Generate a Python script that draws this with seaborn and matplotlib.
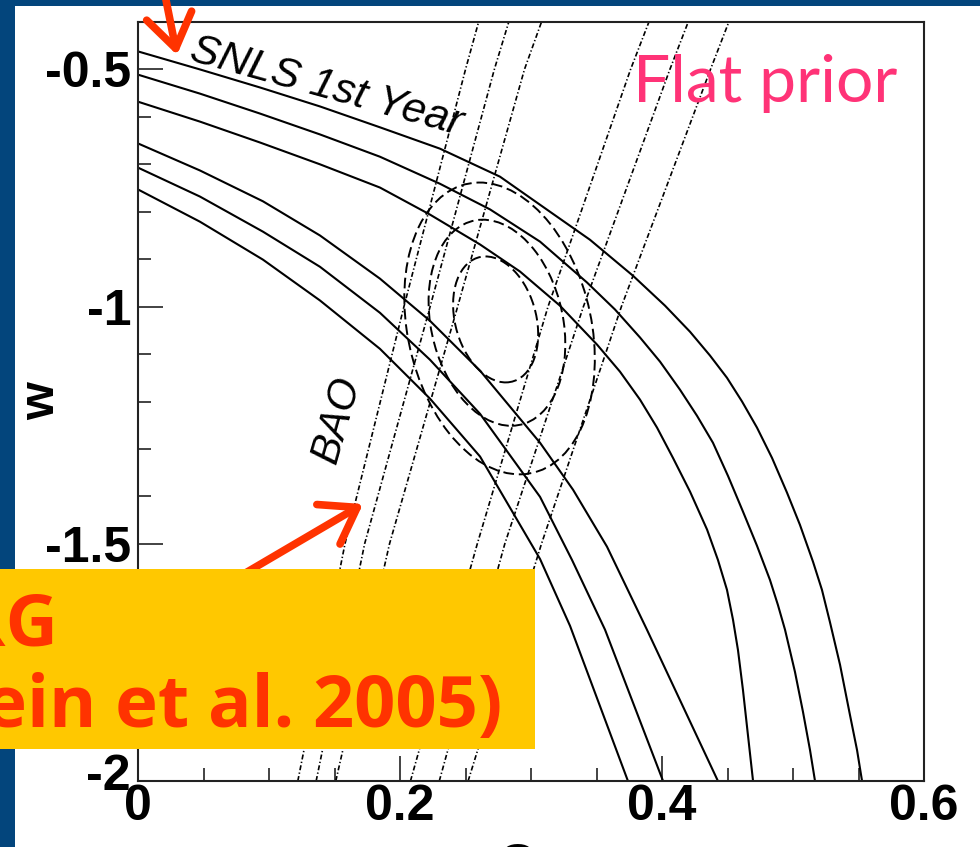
import matplotlib
matplotlib.use("Agg")
import matplotlib.pyplot as plt
from matplotlib.patches import Ellipse, Rectangle
from matplotlib.transforms import ScaledTranslation
import pandas as pd
import seaborn as sns

# ---- SNLS 1st year confidence contours in the (Omega_M, w) plane ----
# upper and lower boundaries of the 99.7 %, 95.4 % and 68.3 % regions
snls_up997_om = [0.000, 0.0473, 0.0931, 0.1389, 0.1847, 0.2305, 0.2763, 0.3145, 0.3450, 0.3779,
                 0.4023, 0.4214, 0.4366, 0.4496, 0.4611, 0.4725, 0.4840, 0.4954, 0.5053, 0.5153,
                 0.5221, 0.5282, 0.5359, 0.5435, 0.5489, 0.5527]
snls_up997_w = [-0.462, -0.500, -0.538, -0.578, -0.622, -0.667, -0.726, -0.800, -0.859, -0.935,
                -0.998, -1.053, -1.103, -1.150, -1.200, -1.255, -1.319, -1.392, -1.460, -1.538,
                -1.597, -1.665, -1.755, -1.861, -1.935, -2.000]
snls_up954_om = [0.000, 0.0473, 0.0931, 0.1389, 0.1847, 0.2305, 0.2687, 0.3069, 0.3427, 0.3641,
                 0.3832, 0.3985, 0.4137, 0.4267, 0.4389, 0.4504, 0.4618, 0.4725, 0.4824, 0.4885,
                 0.4939, 0.5015, 0.5076, 0.5130, 0.5168]
snls_up954_w = [-0.511, -0.551, -0.593, -0.637, -0.684, -0.741, -0.795, -0.863, -0.949, -1.006,
                -1.065, -1.116, -1.175, -1.230, -1.287, -1.357, -1.432, -1.504, -1.576, -1.629,
                -1.681, -1.770, -1.854, -1.935, -2.000]
snls_up683_om = [0.000, 0.0473, 0.0931, 0.1389, 0.1847, 0.2229, 0.2611, 0.2916, 0.3221, 0.3504,
                 0.3679, 0.3832, 0.3962, 0.4084, 0.4214, 0.4344, 0.4427, 0.4496, 0.4542, 0.4580,
                 0.4618, 0.4656, 0.4695]
snls_up683_w = [-0.568, -0.610, -0.654, -0.700, -0.749, -0.806, -0.869, -0.926, -0.998, -1.080,
                -1.137, -1.196, -1.255, -1.319, -1.390, -1.470, -1.534, -1.597, -1.660, -1.724,
                -1.808, -1.903, -2.000]
snls_lo683_om = [0.000, 0.0473, 0.0954, 0.1389, 0.1847, 0.2229, 0.2611, 0.3069, 0.3321, 0.3580,
                 0.3885, 0.4427]
snls_lo683_w = [-0.656, -0.713, -0.778, -0.850, -0.941, -1.030, -1.135, -1.287, -1.386, -1.506,
                -1.681, -2.000]
snls_lo954_om = [0.000, 0.0473, 0.0954, 0.1389, 0.1847, 0.2229, 0.2611, 0.3069, 0.3313, 0.3565,
                 0.4008]
snls_lo954_w = [-0.707, -0.768, -0.842, -0.916, -1.013, -1.112, -1.226, -1.401, -1.534, -1.681,
                -2.000]
snls_lo997_om = [0.000, 0.0473, 0.0954, 0.1389, 0.1847, 0.2229, 0.2611, 0.3069, 0.3298, 0.3740]
snls_lo997_w = [-0.753, -0.821, -0.901, -0.987, -1.089, -1.194, -1.316, -1.532, -1.673, -2.000]

# ---- BAO (SDSS LRG) band edges, Omega_M at fixed w ----
bao_w = [-2.0, -1.5, -1.0, -0.5, -0.4]
bao_left997_om = [0.122, 0.158, 0.203, 0.250, 0.260]
bao_left954_om = [0.136, 0.173, 0.223, 0.272, 0.283]
bao_left683_om = [0.151, 0.192, 0.244, 0.295, 0.308]
bao_right683_om = [0.208, 0.259, 0.313, 0.376, 0.390]
bao_right954_om = [0.230, 0.280, 0.340, 0.406, 0.420]
bao_right997_om = [0.252, 0.308, 0.369, 0.437, 0.451]

# ---- joint SNLS + BAO contours: centre, full width, full height, tilt ----
joint_levels = ["68.3", "95.4", "99.7"]
joint_om = [0.273, 0.274, 0.276]
joint_w = [-1.027, -1.034, -1.046]
joint_width = [0.063, 0.102, 0.142]
joint_height = [0.266, 0.435, 0.616]
joint_angle = [3.5, 3.0, 3.0]

# ---- axes ----
x_ticks = [0.0, 0.2, 0.4, 0.6]
x_tick_labels = ["0", "0.2", "0.4", "0.6"]
y_ticks = [-2.0, -1.5, -1.0, -0.5]
y_tick_labels = ["-2", "-1.5", "-1", "-0.5"]

snls = pd.concat([
    pd.DataFrame({"om": om, "w": w, "curve": name})
    for name, om, w in [("up997", snls_up997_om, snls_up997_w),
                        ("up954", snls_up954_om, snls_up954_w),
                        ("up683", snls_up683_om, snls_up683_w),
                        ("lo683", snls_lo683_om, snls_lo683_w),
                        ("lo954", snls_lo954_om, snls_lo954_w),
                        ("lo997", snls_lo997_om, snls_lo997_w)]
], ignore_index=True)

bao = pd.concat([
    pd.DataFrame({"om": om, "w": bao_w, "curve": name})
    for name, om in [("l997", bao_left997_om), ("l954", bao_left954_om),
                     ("l683", bao_left683_om), ("r683", bao_right683_om),
                     ("r954", bao_right954_om), ("r997", bao_right997_om)]
], ignore_index=True)

sns.set_theme(style="ticks")
plt.rcParams["font.family"] = ["Liberation Sans", "DejaVu Sans"]
plt.rcParams["mathtext.fontset"] = "custom"
plt.rcParams["mathtext.rm"] = "Liberation Sans:bold"
plt.rcParams["mathtext.it"] = "Liberation Sans:bold"
plt.rcParams["mathtext.bf"] = "Liberation Sans:bold"

W, H = 980, 847
slide_blue = "#03457c"
fig = plt.figure(figsize=(W / 100, H / 100), dpi=100, facecolor=slide_blue)
fig.add_artist(Rectangle((15 / W, 0), 1, (H - 6) / H, transform=fig.transFigure,
                         facecolor="white", edgecolor="none", zorder=-5))

ax = fig.add_axes([138 / W, 1 - 781 / H, (924 - 138) / W, (781 - 22) / H])
ax.set_facecolor("white")

sns.lineplot(data=snls, x="om", y="w", units="curve", estimator=None, sort=False,
             color="black", lw=1.5, ax=ax)
sns.lineplot(data=bao, x="om", y="w", units="curve", estimator=None, sort=False,
             color="black", lw=1.2, linestyle=(0, (3.0, 1.4, 0.8, 1.4)), ax=ax)

for lev, cx, cy, wd, ht, ang in zip(joint_levels, joint_om, joint_w,
                                    joint_width, joint_height, joint_angle):
    ax.add_patch(Ellipse((cx, cy), wd, ht, angle=ang, fill=False, edgecolor="black",
                         lw=1.4, linestyle=(0, (5.5, 2.5))))

ax.set_xlim(0, 0.6)
ax.set_ylim(-2, -0.4)
ax.set_xticks(x_ticks)
ax.set_xticklabels(x_tick_labels)
ax.set_yticks(y_ticks)
ax.set_yticklabels(y_tick_labels)
ax.xaxis.set_minor_locator(matplotlib.ticker.MultipleLocator(0.05))
ax.yaxis.set_minor_locator(matplotlib.ticker.MultipleLocator(0.1))
ax.tick_params(which="both", direction="in", top=False, right=False, width=1.2,
               color="#222222")
ax.tick_params(which="major", length=18, labelsize=36, labelcolor="black")
ax.tick_params(which="minor", length=9.5)
ax.tick_params(axis="x", which="major", pad=2)
ax.tick_params(axis="y", which="major", pad=5)
for lbl in ax.get_xticklabels() + ax.get_yticklabels():
    lbl.set_fontweight("bold")
# lift the lowest w label clear of the Omega_M = 0 label
low_lbl = ax.get_yticklabels()[0]
low_lbl.set_transform(low_lbl.get_transform() + ScaledTranslation(0, 9 / 100, fig.dpi_scale_trans))
for sp in ax.spines.values():
    sp.set_visible(True)
    sp.set_linewidth(1.5)
    sp.set_color("#222222")

ax.set_ylabel("w", fontsize=35, fontweight="bold", color="black")
ax.yaxis.set_label_coords(-0.123, 0.5)
ax.yaxis.label.set_va("center")
ax.set_xlabel(r"$\Omega_{M}$", fontsize=34, color="black")
ax.xaxis.set_label_coords(0.5, -0.081)
ax.xaxis.label.set_va("top")

# curve labels
ax.text(0.038, -0.480, "SNLS 1st Year", rotation=-15.5, rotation_mode="anchor",
        ha="left", va="baseline", fontsize=31, style="italic", color="black")
ax.text(0.152, -1.238, "BAO", rotation=74, rotation_mode="anchor",
        ha="center", va="center", fontsize=30, style="italic", color="black")
ax.text(0.63, 0.895, "Flat prior", transform=ax.transAxes, ha="left", va="baseline",
        fontsize=47.5, color="#ff3377", family="Lato")

# pointer arrows
red = "#ff3300"
arrow = dict(arrowstyle="->,head_length=0.8,head_width=0.55", lw=5.5, color=red,
             mutation_scale=30, shrinkA=0, shrinkB=0, capstyle="round")
ax.annotate("", xy=(363, H - 504), xytext=(225, H - 585), xycoords="figure pixels",
            textcoords="figure pixels", arrowprops=arrow, annotation_clip=False)
ax.annotate("", xy=(177, H - 55), xytext=(164, H + 10), xycoords="figure pixels",
            textcoords="figure pixels", arrowprops=arrow, annotation_clip=False)

# caption box
cap_font = ["Open Sans", "DejaVu Sans"]
fig.add_artist(Rectangle((0, (H - 749) / H), 535 / W, 180 / H, transform=fig.transFigure,
                         facecolor="#ffc800", edgecolor="none", zorder=10))
fig.text(58 / W, (H - 645) / H, "LRG", ha="right", va="baseline", fontsize=52,
         fontweight="bold", color=red, family=cap_font, zorder=11)
fig.text(502 / W, (H - 727) / H, "(Eisenstein et al. 2005)", ha="right", va="baseline",
         fontsize=52, fontweight="bold", color=red, family=cap_font, zorder=11)

fig.savefig("out.png", dpi=100, facecolor=fig.get_facecolor())
